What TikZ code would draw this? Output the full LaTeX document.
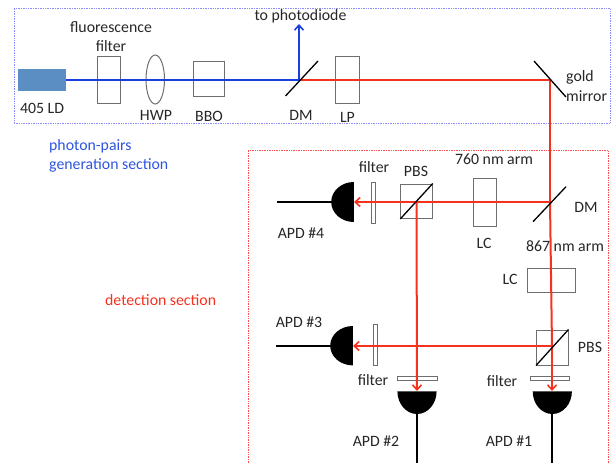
\documentclass[tikz,border=0pt]{standalone}
\usepackage{fontspec}
\setmainfont{Carlito}
\usetikzlibrary{arrows.meta,shapes.geometric}
\definecolor{ldblue}{HTML}{5B8FC4}
\definecolor{beamblue}{HTML}{1A3FE0}
\definecolor{beamred}{HTML}{F5321E}
\definecolor{txtblue}{HTML}{2F55E0}
\definecolor{compgray}{HTML}{6E6E6E}
\tikzset{
  lbl/.style={font=\fontsize{15.8}{18}\selectfont,text=black!85,inner sep=0pt},
  lblb/.style={lbl,text=txtblue,anchor=west},
  comp/.style={draw=compgray,line width=1pt,fill=none,inner sep=0pt,minimum width=#1},
  blue beam/.style={draw=beamblue,line width=2pt},
  red beam/.style={draw=beamred,line width=2pt},
  tipped/.style={-{Straight Barb[length=5pt,width=9pt,line width=1.6pt]}},
  mirror/.style={draw=black,line width=1.3pt},
  wire/.style={draw=black,line width=1.6pt},
  secblue/.style={draw=blue!45,densely dotted,line width=0.7pt},
  secred/.style={draw=red!70,densely dotted,line width=0.7pt},
  apd/.style={fill=black,draw=none}
}
\begin{document}
\begin{tikzpicture}[x=1pt,y=-1pt]
\useasboundingbox (0,0) rectangle (611,463);
% section frames
\node[secblue,minimum width=596pt,minimum height=114.5pt,inner sep=0pt] (genbox) at (312,65.75) {};
\draw[secred] (248,463) -- (248,150.5) -- (608,150.5) -- (608,463);
% source and components, generation section
\node[fill=ldblue,minimum width=48pt,minimum height=22pt,inner sep=0pt] (ld) at (42,80) {};
\node[comp=23.5pt,minimum height=47pt] (ff) at (108.75,79.5) {};
\node[comp=18.5pt,minimum height=49pt,ellipse] (hwp) at (155.25,79.5) {};
\node[comp=31pt,minimum height=35pt] (bbo) at (209,78.5) {};
\node[comp=23.5pt,minimum height=47pt] (lp) at (347.5,79.5) {};
% detection components
\node[comp=23pt,minimum height=48pt] (lca) at (484.5,202) {};
\node[comp=48pt,minimum height=23.5pt] (lcb) at (551.5,280.6) {};
\node[comp=31.5pt,minimum height=34.5pt] (pbsa) at (416.5,201.25) {};
\node[comp=31.5pt,minimum height=35pt] (pbsb) at (552.25,347.5) {};
\node[comp=3.5pt,minimum height=40.5pt] (fa) at (373.25,202.75) {};
\node[comp=3.5pt,minimum height=40.5pt] (fb) at (375.25,344.75) {};
\node[comp=39.5pt,minimum height=4pt] (fc) at (417.25,378) {};
\node[comp=39pt,minimum height=4pt] (fd) at (550,378) {};
% beam corner points
\coordinate (dm1) at (299,80);
\coordinate (pd) at (299,24);
\coordinate (gm) at (550,80);
\coordinate (dm2) at (550,202);
\coordinate (pa) at (416.5,202);
\coordinate (pb) at (552,346);
\coordinate (a4) at (354,202);
\coordinate (a3) at (353,346);
\coordinate (a2) at (417,391);
\coordinate (a1) at (552,391);
% APDs
\fill[apd] (353.9,182) arc[start angle=90,end angle=270,x radius=22.7pt,y radius=20pt] -- cycle;
\fill[apd] (352.9,326) arc[start angle=90,end angle=270,x radius=22.7pt,y radius=19.7pt] -- cycle;
\fill[apd] (397.4,391.3) arc[start angle=180,end angle=360,x radius=19.6pt,y radius=22.7pt] -- cycle;
\fill[apd] (532.7,391.3) arc[start angle=180,end angle=360,x radius=19.6pt,y radius=22.7pt] -- cycle;
% wires
\coordinate (w4) at (277,202);
\coordinate (w3) at (276,346);
\coordinate (w2) at (417,463);
\coordinate (w1) at (552,463);
\draw[wire] (w4) -- (332,202);
\draw[wire] (w3) -- (331,346);
\draw[wire] (w2) -- (417,413);
\draw[wire] (w1) -- (552,413);
% beams
\draw[red beam] (dm1) -- (gm) -- (dm2);
\draw[red beam] (dm2) -- (pb);
\draw[red beam,tipped] (pb) -- (a1);
\draw[red beam,tipped] (dm2) -- (a4);
\draw[red beam,tipped] (pa) -- (a2);
\draw[red beam,tipped] (pb) -- (a3);
\draw[blue beam] (ld.east) -- (dm1);
\draw[blue beam,tipped] (dm1) -- (pd);
% mirrors
\draw[mirror] (285.5,96) -- (318,61);
\draw[mirror] (534,61) -- (566,97);
\draw[mirror] (533,221.7) -- (566,186.7);
\draw[mirror] (pbsa.south west) -- (pbsa.north east);
\draw[mirror] (pbsb.south west) -- (pbsb.north east);
% labels
\node[lbl] (t1) at (111,27) {fluorescence};
\node[lbl] (t2) at (111,46) {filter};
\node[lbl] (t3) at (42,108) {405 LD};
\node[lbl] (t4) at (156,115) {HWP};
\node[lbl] (t5) at (209,116) {BBO};
\node[lbl] (t6) at (301,115) {DM};
\node[lbl] (t7) at (347.5,117) {LP};
\node[lbl] (t8) at (300.5,16) {to photodiode};
\node[lbl,anchor=west] (t9) at (566,77) {gold};
\node[lbl,anchor=west] (t10) at (566,96) {mirror};
\node[lblb] (t11) at (49,146.5) {photon-pairs};
\node[lblb] (t12) at (49,165.5) {generation section};
\node[lbl,anchor=west,text=beamred] (t13) at (105,300) {detection section};
\node[lbl] (t14) at (494,159) {760 nm arm};
\node[lbl] (t15) at (374,167) {filter};
\node[lbl] (t16) at (416,171) {PBS};
\node[lbl] (t17) at (301,233) {APD \#4};
\node[lbl] (t18) at (484,243) {LC};
\node[lbl] (t19) at (565,246) {867 nm arm};
\node[lbl] (t20) at (586,207.5) {DM};
\node[lbl] (t21) at (510,279.5) {LC};
\node[lbl] (t22) at (299,322) {APD \#3};
\node[lbl] (t23) at (373,380) {filter};
\node[lbl] (t24) at (502,381) {filter};
\node[lbl] (t25) at (590,347) {PBS};
\node[lbl] (t26) at (376,441) {APD \#2};
\node[lbl] (t27) at (509,441) {APD \#1};
\end{tikzpicture}
\end{document}
